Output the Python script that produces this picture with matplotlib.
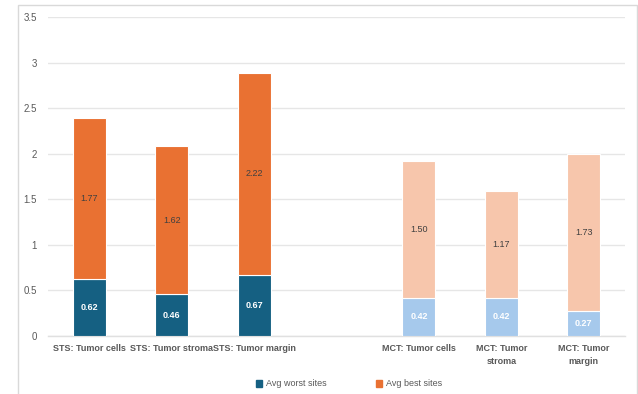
import matplotlib
matplotlib.use("Agg")
import matplotlib.pyplot as plt
from matplotlib.patches import Rectangle, Patch

plt.rcParams['font.family'] = ['Liberation Sans', 'DejaVu Sans']

categories = ["STS: Tumor cells", "STS: Tumor stroma", "STS: Tumor margin", "",
              "MCT: Tumor cells", "MCT: Tumor\nstroma", "MCT: Tumor\nmargin"]
worst = [0.62, 0.46, 0.67, None, 0.42, 0.42, 0.27]
best = [1.77, 1.62, 2.22, None, 1.50, 1.17, 1.73]
series_names = ["Avg worst sites", "Avg best sites"]

dark_blue = "#156082"
orange = "#E97132"
light_blue = "#A6C9EC"
light_orange = "#F7C6AC"

fig = plt.figure(figsize=(6.38, 3.94), dpi=100)
fig.patches.append(Rectangle((18 / 638, -0.05), (637 - 18) / 638, 1.05 - 5 / 394,
                             transform=fig.transFigure, fill=False,
                             edgecolor="#d9d9d9", linewidth=1.0))
ax = fig.add_axes([48 / 638, 1 - 336 / 394, (625 - 48) / 638, (336 - 17) / 394])

x = list(range(len(categories)))
for i, (w, b) in enumerate(zip(worst, best)):
    if w is None:
        continue
    is_mct = categories[i].startswith("MCT")
    cw = light_blue if is_mct else dark_blue
    cb = light_orange if is_mct else orange
    ax.bar(i, w, width=0.4, color=cw, edgecolor="white", linewidth=0.8, zorder=3)
    ax.bar(i, b, bottom=w, width=0.4, color=cb, edgecolor="white", linewidth=0.8, zorder=3)
    ax.text(i, w / 2, f"{w:.2f}", ha="center", va="center", color="white",
            fontsize=6.5, fontweight="bold", zorder=4)
    ax.text(i, w + b / 2, f"{b:.2f}", ha="center", va="center", color="#404040",
            fontsize=6.5, zorder=4)

ax.set_xlim(-0.5, len(categories) - 0.5)
ax.set_ylim(0, 3.5)
ax.set_yticks([0, 0.5, 1, 1.5, 2, 2.5, 3, 3.5])
ax.set_yticklabels(["0", "0.5", "1", "1.5", "2", "2.5", "3", "3.5"])
ax.set_xticks(x)
ax.set_xticklabels(categories, fontweight="bold", fontsize=6.5, color="#595959",
                   linespacing=1.5)
ax.tick_params(axis="y", labelsize=7, labelcolor="#595959", length=0, pad=8)
ax.tick_params(axis="x", length=0, pad=6)
ax.grid(axis="y", color="#e6e6e6", linewidth=1.0, zorder=0)
for s in ["top", "right", "left"]:
    ax.spines[s].set_visible(False)
ax.spines["bottom"].set_color("#e0e0e0")
ax.spines["bottom"].set_linewidth(1.0)

handles = [Patch(color=dark_blue), Patch(color=orange)]
fig.legend(handles, series_names, loc="center", bbox_to_anchor=(349 / 638, 1 - 384 / 394),
           ncol=2, frameon=False, fontsize=6.5, handlelength=0.7, handleheight=0.7,
           handletextpad=0.4, columnspacing=5.5, labelcolor="#595959")

fig.savefig("out.png", dpi=100)
